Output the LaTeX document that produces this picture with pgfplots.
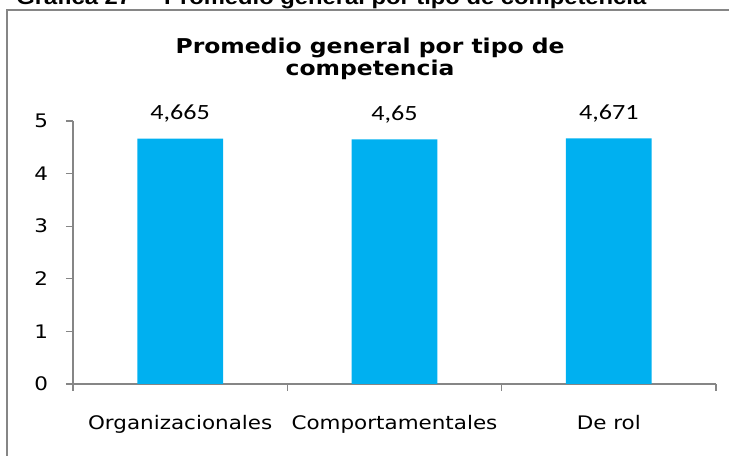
\documentclass[border=0pt]{standalone}
\usepackage{fontspec}
\usepackage{pgfplots}
\pgfplotsset{compat=1.18}
\setmainfont{DejaVu Sans}[FakeStretch=1.15]
\newfontfamily\calib{Carlito}[FakeStretch=1.2]
\newfontfamily\arialf{Liberation Sans}[FakeStretch=1.15]
\definecolor{barblue}{HTML}{00B0F0}
\definecolor{axgray}{HTML}{868686}

\begin{document}
\begin{tikzpicture}
\useasboundingbox (0,0) rectangle (546.75pt,342pt);
\clip (0,0) rectangle (546.75pt,342pt);

% marco del grafico y encabezado cortado
\draw[axgray, line width=1.3pt] (5.25pt,-20pt) rectangle (570pt,334.5pt);
\node[anchor=base west, inner sep=0pt, font=\arialf\bfseries\fontsize{15.5}{18}\selectfont]
  at (12pt,338.4pt) {Gráfica 27 –\ \ Promedio general por tipo de competencia};

\begin{axis}[
    at={(54.75pt,54pt)}, anchor=south west,
    scale only axis,
    width=482.25pt, height=197.25pt,
    xmin=-0.5, xmax=2.5,
    ymin=0, ymax=5,
    axis x line=bottom, axis y line=left,
    axis line style={-, axgray, line width=1pt},
    xtick={0,1,2},
    xticklabels={Organizacionales, Comportamentales, De rol},
    minor xtick={-0.5,0.5,1.5,2.5},
    major x tick style={draw=none},
    minor x tick style={axgray, line width=1pt},
    ytick={0,1,2,3,4,5},
    y tick style={axgray, line width=1pt},
    tick align=outside,
    major tick length=5.25pt, minor tick length=5.25pt,
    ticklabel style={font=\fontsize{14}{16}\selectfont},
    xticklabel style={anchor=base, yshift=-29pt},
    yticklabel style={xshift=-10pt},
    title={Promedio general por tipo de\\competencia},
    title style={at={(axis description cs:0.462,1)}, anchor=south,
      align=center, yshift=21.5pt,
      font=\bfseries\fontsize{15.3}{16.6}\selectfont},
    /pgf/number format/use comma,
    /pgf/number format/precision=3,
    /pgf/number format/assume math mode=true,
    nodes near coords,
    every node near coord/.append style={font=\calib\fontsize{16.3}{18}\selectfont,
      anchor=base, yshift=14pt, black},
]
\addplot[ybar, bar width=0.4, fill=barblue, draw=none] coordinates {
(0,4.665) (1,4.65) (2,4.671)
};
\end{axis}
\end{tikzpicture}
\end{document}
